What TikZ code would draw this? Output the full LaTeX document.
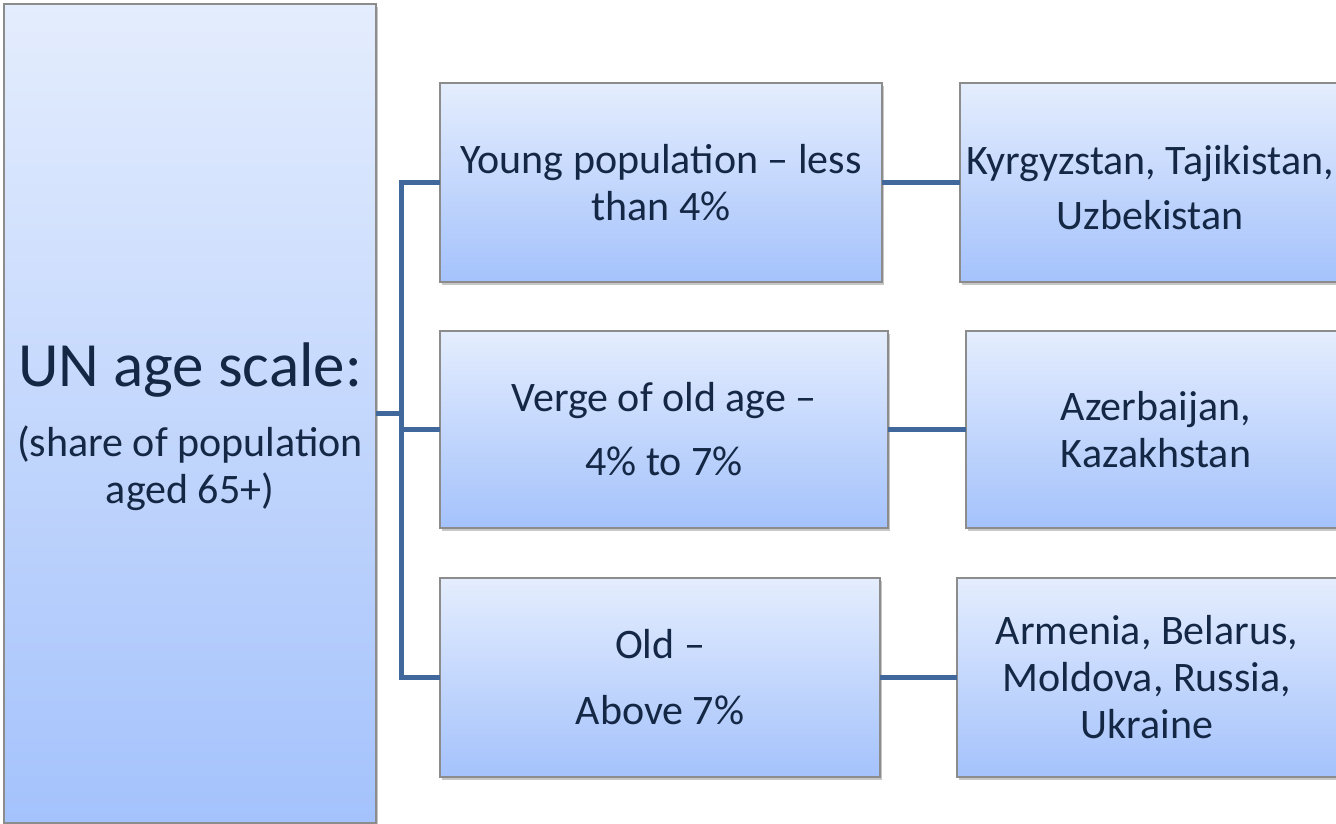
\documentclass[tikz,border=0pt]{standalone}
\usepackage{fontspec}
\setmainfont{Carlito}
\usetikzlibrary{shadows}
\definecolor{boxtop}{HTML}{E4EDFD}
\definecolor{boxbot}{HTML}{A4C2FC}
\definecolor{boxline}{HTML}{8C8C8C}
\definecolor{txtcol}{HTML}{142845}
\definecolor{conncol}{HTML}{41689C}
\tikzset{
  box/.style={draw=boxline, line width=1.4pt, top color=boxtop, bottom color=boxbot,
    anchor=north west, inner sep=4pt, outer sep=0pt, align=center, text=txtcol,
    font=\fontsize{42}{47}\selectfont,
    drop shadow={shadow xshift=1.5pt, shadow yshift=-3pt, fill=black, opacity=0.22}},
  conn/.style={draw=conncol, line width=5pt, line join=miter, line cap=butt}
}
\begin{document}
\begin{tikzpicture}[x=1pt,y=-1pt]
\useasboundingbox (0,0) rectangle (1336,824);
\clip (0,0) rectangle (1336,824);
\fill[white] (0,0) rectangle (1336,824);
% left box
\node[box, minimum width=372pt, minimum height=819pt] (L) at (4,4)
  {{\fontsize{63}{63}\selectfont\rule{0pt}{70pt}UN age scale:}\\[23pt](share of population\\aged 65+)};
% middle boxes
\node[box, minimum width=442pt, minimum height=199pt] (M1) at (440,83)
  {Young population – less\\than 4\%};
\node[box, minimum width=448pt, minimum height=197pt] (M2) at (440,331)
  {Verge of old age –\\[17pt]4\% to 7\%};
\node[box, minimum width=440pt, minimum height=199pt] (M3) at (440,578)
  {Old –\\[19pt]Above 7\%};
% right boxes
\node[box, minimum width=380pt, minimum height=199pt] (R1) at (960,83)
  {\rule{0pt}{40pt}Kyrgyzstan, Tajikistan,\\[8pt]Uzbekistan};
\node[box, minimum width=380pt, minimum height=197pt] (R2) at (966,331)
  {Azerbaijan,\\Kazakhstan};
\node[box, minimum width=380pt, minimum height=199pt] (R3) at (957,578)
  {Armenia, Belarus,\\Moldova, Russia,\\Ukraine};
% connectors
\coordinate (bus) at (401,413);
\draw[conn] (L.east |- bus) -- (bus);
\draw[conn] (M1.west) -| (bus |- M3.west) -- (M3.west);
\draw[conn] (bus |- M2.west) -- (M2.west);
\draw[conn] (M1.east) -- (R1.west);
\draw[conn] (M2.east) -- (R2.west);
\draw[conn] (M3.east) -- (R3.west);
\end{tikzpicture}
\end{document}
